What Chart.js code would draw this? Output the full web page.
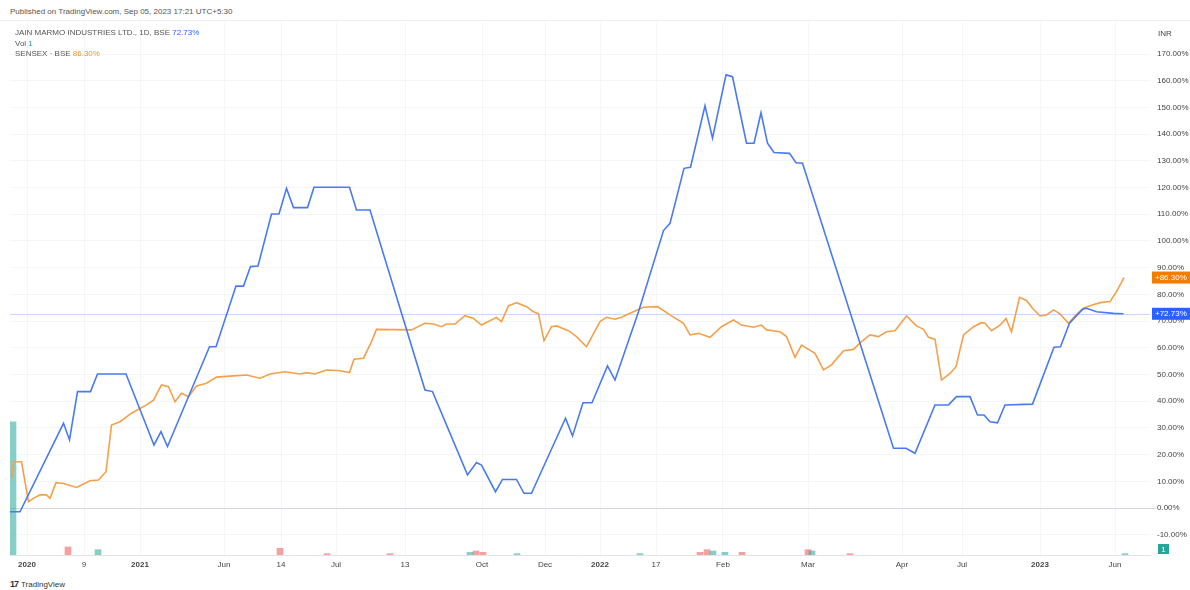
<!DOCTYPE html>
<html>
<head>
<meta charset="utf-8">
<title>JAIN MARMO vs SENSEX</title>
<script src="https://cdn.jsdelivr.net/npm/chart.js@4.4.1/dist/chart.umd.min.js"></script>
<style>
  body {
    margin: 0;
    width: 1190px;
    height: 590px;
    background: #fff;
    font-family: "Liberation Sans", Arial, sans-serif;
    overflow: hidden;
    position: relative;
  }
  .published { position: absolute; left: 10px; top: 7px; font-size: 8px; color: #555; }
  .frame { position: absolute; left: 0; top: 20px; width: 1190px; border-top: 1px solid #eceef2; }
  #chartBox { position: absolute; left: 0; top: 0; }
  .legend { position: absolute; left: 15px; top: 28px; font-size: 8px; color: #555; line-height: 10.5px; }
  .legend .blue { color: #2962ff; }
  .legend .teal { color: #26a69a; }
  .legend .orange { color: #f7931a; }
  .brand { position: absolute; left: 10px; top: 579px; font-size: 8px; color: #333; }
  .brand b { font-size: 9px; letter-spacing: -1px; margin-right: 3px; }
</style>
</head>
<body>
<div class="published">Published on TradingView.com, Sep 05, 2023 17:21 UTC+5:30</div>
<div class="frame"></div>
<canvas id="chartBox" width="1190" height="573"></canvas>
<div class="legend">
  <div>JAIN MARMO INDUSTRIES LTD., 1D, BSE <span class="blue">72.73%</span></div>
  <div>Vol <span class="teal">1</span></div>
  <div>SENSEX · BSE <span class="orange">86.30%</span></div>
</div>
<div class="brand"><b>17</b>TradingView</div>

<script>
// bar index (trading session) and % change from first bar
const jainBars = [0, 2, 10.7, 11.9, 13.5, 16.1, 17.5, 23.2, 28.8, 30.2, 31.5, 39.9, 41.2, 45.2, 46.7,
  48.1, 49.6, 52.3, 53.8, 55.3, 56.7, 59.5, 60.8, 67.9, 69.3, 72, 83, 84.5, 91.5, 93.3, 94.3, 97.1,
  98.5, 101.3, 102.8, 104.3, 111.1, 112.5, 114.6, 116.4, 119.5, 121, 125.7, 130.7, 132, 134.8, 136.1,
  139, 140.5, 143.2, 144.5, 147.3, 148.8, 150.2, 151.5, 152.8, 155.9, 157.2, 158.5, 176.7, 179.2,
  181, 185, 187.7, 189.3, 192, 193.5, 194.8, 196, 197.5, 199, 204.5, 208.8, 210.1, 211.9, 214.5,
  215.3, 217.3, 220.7, 222.7];
const jainPct = [-1.4, -1.4, 31.7, 25.5, 43.6, 43.6, 50.2, 50.2, 23.6, 28.6, 23.0, 60.4, 60.4, 83.1, 83.1,
  90.4, 90.6, 110.1, 110.1, 119.7, 112.5, 112.5, 120.1, 120.1, 111.6, 111.6, 44.2, 43.6, 12.4, 17.0, 16.1, 6.1,
  10.7, 10.7, 5.5, 5.5, 33.6, 27.0, 39.4, 39.4, 53.2, 47.9, 73.5, 103.9, 106.6, 127.2, 127.6,
  150.6, 138.5, 162.2, 161.5, 136.6, 136.6, 148.0, 136.6, 133.1, 132.8, 129.3, 129.1, 22.4, 22.4,
  20.5, 38.6, 38.6, 41.7, 41.7, 34.8, 34.8, 32.3, 31.9, 38.6, 38.9, 60.2, 60.4, 69.2, 74.4,
  74.8, 73.5, 72.9, 72.73];

const sensexBars = [0.3, 0.7, 2.3, 3.7, 4.7, 6, 7.3, 8, 9.2, 10.7, 13.3, 16, 17.7, 19.2, 20.3, 22, 24.3,
  27.3, 28.7, 30.3, 31.7, 33, 34.3, 35.7, 37.3, 39.3, 41.3, 44, 47.3, 50, 52, 55, 58, 59.3, 61, 63.3,
  66, 67.9, 68.8, 70.7, 72.3, 73.3, 80.3, 83, 84.7, 86.3, 87.3, 89, 91, 92.7, 94.3, 97.3, 98.3, 99.7,
  101.3, 103.3, 104.7, 105.7, 106.8, 108.3, 109.3, 111.7, 113.3, 115.3, 118, 119.3, 121, 122.3, 124,
  126.7, 129.5, 132, 134.7, 136, 137.7, 140, 142.3, 144.7, 146.3, 148.7, 150.3, 151.3, 154, 155.3,
  157, 158.3, 161, 162.7, 164.3, 166.7, 168.7, 170.3, 172, 173.7, 175.3, 177, 179.3, 181.3, 182.7,
  183.7, 185, 186.3, 188, 189.2, 190.7, 192.7, 194.3, 195, 196.3, 198, 199.2, 200.3, 201.9, 203.3,
  204.5, 206, 207.3, 208.7, 210, 211.7, 213.2, 214.7, 216, 218, 220, 221.3, 222.8];
const sensexPct = [11.2, 17.3, 17.3, 2.4, 3.6, 4.9, 4.9, 3.6, 9.5, 9.2, 7.7, 10.2, 10.5, 13.6, 31.1, 32.3, 35.5,
  38.6, 40.4, 46.1, 45.4, 39.8, 43.0, 41.7, 45.7, 46.7, 49.0, 49.4, 49.8, 48.6, 50.2, 51.0, 50.2, 50.7, 50.2, 51.7,
  51.4, 50.7, 55.7, 56.1, 62.3, 66.9, 66.7, 69.2, 68.9, 67.9, 68.9, 68.9, 72.0, 71.0, 68.5, 71.4, 69.8, 75.7,
  76.9, 75.4, 73.5, 72.7, 62.7, 67.9, 68.2, 66.4, 64.2, 60.4, 69.8, 71.4, 70.7, 71.4, 72.9,
  75.2, 75.4, 72.3, 69.2, 64.8, 65.4, 63.9, 67.9, 70.4, 68.5, 67.7, 68.5, 66.7, 66.0, 64.2,
  56.4, 61.0, 57.9, 51.7, 53.6, 58.9, 59.4, 62.3, 64.8, 64.2, 66.0, 66.4, 71.9, 68.2, 66.9,
  63.9, 63.2, 47.9, 50.4, 52.9, 64.8, 67.9, 69.4, 69.2, 66.4, 68.5, 71.0, 66.0, 78.9, 77.7,
  74.8, 71.9, 72.3, 74.2, 72.7, 69.2, 72.3, 74.8, 75.7, 76.9, 77.3, 81.0, 86.3];

// volume (relative units), up = teal, down = red
const volBars = [0.6, 11.6, 17.6, 54, 63.4, 76, 92, 93.2, 94.6, 101.4, 126, 138, 139.4, 140.6, 143, 146.4, 159.6, 160.4, 168, 223];
const volValues = [100, 6, 4, 5, 1, 1, 2, 3, 2, 1, 1, 2, 4, 3, 2, 2, 4, 3, 1, 1];
const volUp = [true, false, true, false, false, false, true, false, false, true, true, false, false, true, true, false, false, true, false, true];

const tickBars = [3.4, 14.8, 26, 42.8, 54.2, 65.2, 79, 94.4, 107, 118, 129.2, 142.6, 159.6, 178.4, 190.4, 206, 221];
const tickLabels = ["2020", "9", "2021", "Jun", "14", "Jul", "13", "Oct", "Dec", "2022", "17", "Feb", "Mar", "Apr", "Jul", "2023", "Jun"];

const pctTicks = [-10, 0, 10, 20, 30, 40, 50, 60, 70, 80, 90, 100, 110, 120, 130, 140, 150, 160, 170];

const BLUE = "#4a7af2";
const ORANGE = "#f5a04a";

document.addEventListener("DOMContentLoaded", () => {
  const ctx = document.getElementById("chartBox").getContext("2d");

  const lastJain = jainPct[jainPct.length - 1];
  const lastSensex = 86.30;

  /* reference lines under the series, value boxes on the price scale */
  const overlay = {
    id: "overlay",
    beforeDatasetsDraw(chart) {
      const { ctx, chartArea: a, scales } = chart;
      const y0 = scales.y.getPixelForValue(0);
      const yj = scales.y.getPixelForValue(lastJain);
      ctx.save();
      ctx.lineWidth = 1;
      ctx.strokeStyle = "#d6d9e0";
      ctx.beginPath();
      ctx.moveTo(a.left, Math.round(y0) + 0.5);
      ctx.lineTo(a.right + 6, Math.round(y0) + 0.5);
      ctx.stroke();
      ctx.strokeStyle = "rgba(74, 122, 242, 0.3)";
      ctx.beginPath();
      ctx.moveTo(a.left, Math.round(yj) + 0.5);
      ctx.lineTo(a.right, Math.round(yj) + 0.5);
      ctx.stroke();
      ctx.restore();
    },
    afterDraw(chart) {
      const { ctx, chartArea: a, scales } = chart;
      const box = (val, text, fill) => {
        const y = scales.y.getPixelForValue(val);
        ctx.fillStyle = fill;
        ctx.fillRect(a.right + 2, y - 6, 38, 12);
        ctx.fillStyle = "#fff";
        ctx.font = "8px 'Liberation Sans', Arial";
        ctx.textBaseline = "middle";
        ctx.textAlign = "left";
        ctx.fillText(text, a.right + 5, y + 0.5);
      };
      ctx.save();
      box(lastSensex, "+" + lastSensex.toFixed(2) + "%", "#f57c00");
      box(lastJain, "+" + lastJain.toFixed(2) + "%", "#2962ff");
      // volume value tag
      ctx.fillStyle = "#26a69a";
      ctx.fillRect(a.right + 8, a.bottom - 11, 11, 10);
      ctx.fillStyle = "#fff";
      ctx.textAlign = "center";
      ctx.fillText(String(volValues[volValues.length - 1]), a.right + 13.5, a.bottom - 5.5);
      // scale currency
      ctx.fillStyle = "#444";
      ctx.textAlign = "left";
      ctx.fillText("INR", a.right + 8, 34);
      ctx.restore();
    },
  };

  new Chart(ctx, {
    data: {
      datasets: [
        {
          type: "line",
          data: jainBars.map((x, i) => ({ x, y: jainPct[i] })),
          borderColor: BLUE,
          borderWidth: 1.6,
          pointRadius: 0,
          tension: 0,
          yAxisID: "y",
          order: 1,
        },
        {
          type: "line",
          data: sensexBars.map((x, i) => ({ x, y: sensexPct[i] })),
          borderColor: ORANGE,
          borderWidth: 1.6,
          pointRadius: 0,
          tension: 0,
          yAxisID: "y",
          order: 2,
        },
        {
          type: "bar",
          data: volBars.map((x, i) => ({ x, y: volValues[i] })),
          backgroundColor: volUp.map((u) => (u ? "rgba(38, 166, 154, 0.55)" : "rgba(239, 83, 80, 0.55)")),
          barThickness: 6,
          yAxisID: "vol",
          order: 3,
        },
      ],
    },
    options: {
      responsive: false,
      animation: false,
      devicePixelRatio: 1,
      layout: { padding: { left: 10, top: 22, right: 0, bottom: 0 } },
      plugins: { legend: { display: false }, tooltip: { enabled: false } },
      scales: {
        x: {
          type: "linear",
          min: 0,
          max: 228,
          offset: false,
          grid: { color: "rgba(0, 0, 0, 0.035)", drawTicks: false, offset: false },
          border: { color: "#e0e3eb" },
          afterBuildTicks: (axis) => {
            axis.ticks = tickBars.map((v) => ({ value: v }));
          },
          afterFit: (axis) => {
            axis.height = 18;
          },
          ticks: {
            autoSkip: false,
            maxRotation: 0,
            padding: 5,
            color: "#444",
            font: (c) => {
              const lbl = tickLabels[c.index] || "";
              return { size: 8, family: "'Liberation Sans', Arial", weight: /^\d{4}$/.test(lbl) ? "bold" : "normal" };
            },
            callback: (v, i) => tickLabels[i],
          },
        },
        y: {
          position: "right",
          min: -17.6,
          max: 182,
          grid: { color: "rgba(0, 0, 0, 0.035)", drawTicks: false },
          border: { display: false },
          afterBuildTicks: (axis) => {
            axis.ticks = pctTicks.map((v) => ({ value: v }));
          },
          afterFit: (axis) => {
            axis.width = 40;
          },
          ticks: {
            padding: 7,
            color: "#444",
            font: { size: 8, family: "'Liberation Sans', Arial" },
            callback: (v) => v.toFixed(2) + "%",
          },
        },
        vol: {
          type: "linear",
          display: false,
          min: 0,
          max: 400,
        },
      },
    },
    plugins: [overlay],
  });
});
</script>
</body>
</html>
